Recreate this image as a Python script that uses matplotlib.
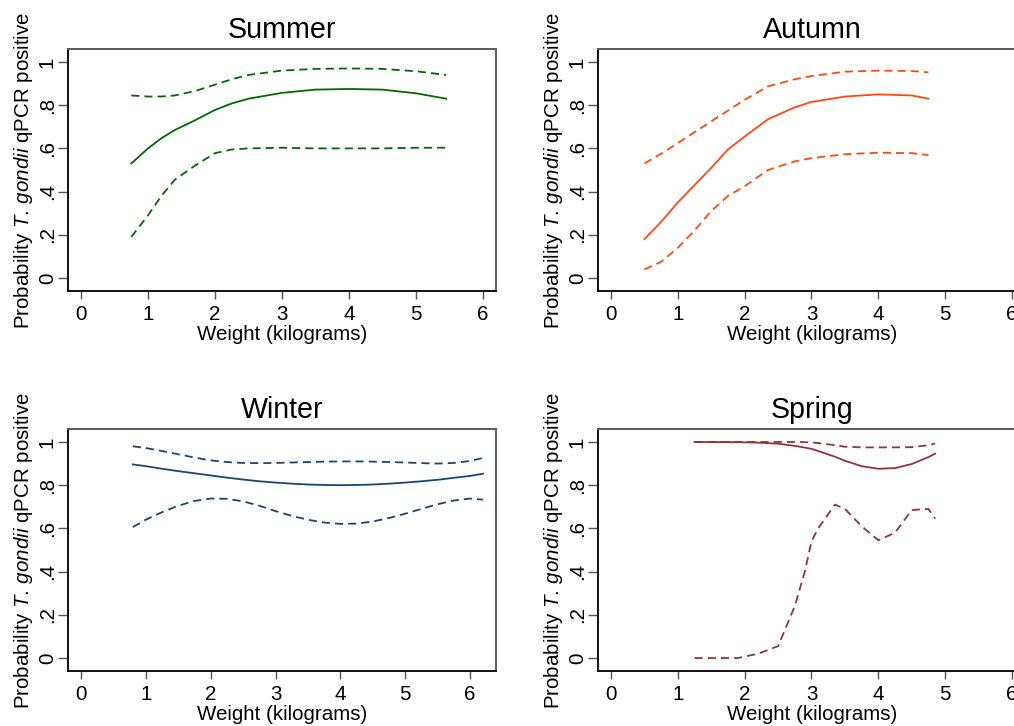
import matplotlib
matplotlib.use("Agg")
import matplotlib.pyplot as plt

plt.rcParams['font.family'] = ['Liberation Sans', 'DejaVu Sans']
plt.rcParams['mathtext.fontset'] = 'custom'
plt.rcParams['mathtext.rm'] = 'Liberation Sans'
plt.rcParams['mathtext.it'] = 'Liberation Sans:italic'

# ---------------- data ----------------
summer_w = [0.75, 1.0, 1.2, 1.4, 1.7, 2.0, 2.25, 2.5, 3.0, 3.5, 4.0, 4.5, 5.0, 5.45]
summer_mean = [0.53, 0.60, 0.647, 0.685, 0.73, 0.778, 0.808, 0.83, 0.857, 0.872, 0.875, 0.872, 0.855, 0.83]
summer_upper = [0.845, 0.84, 0.84, 0.845, 0.865, 0.895, 0.92, 0.94, 0.96, 0.968, 0.97, 0.968, 0.957, 0.94]
summer_lower = [0.19, 0.29, 0.38, 0.455, 0.52, 0.578, 0.595, 0.60, 0.603, 0.60, 0.60, 0.60, 0.603, 0.603]

autumn_w = [0.5, 0.75, 1.0, 1.25, 1.5, 1.75, 2.0, 2.35, 2.75, 3.0, 3.5, 4.0, 4.5, 4.75]
autumn_mean = [0.18, 0.26, 0.35, 0.43, 0.51, 0.595, 0.655, 0.735, 0.79, 0.815, 0.84, 0.85, 0.845, 0.83]
autumn_upper = [0.53, 0.575, 0.625, 0.675, 0.725, 0.775, 0.825, 0.887, 0.92, 0.935, 0.955, 0.96, 0.958, 0.952]
autumn_lower = [0.04, 0.075, 0.14, 0.22, 0.31, 0.38, 0.425, 0.50, 0.54, 0.555, 0.573, 0.58, 0.578, 0.569]

winter_w = [0.8, 1.0, 1.25, 1.5, 1.75, 2.0, 2.25, 2.5, 2.75, 3.0, 3.25, 3.5, 3.75, 4.0, 4.25, 4.5,
            4.75, 5.0, 5.25, 5.5, 5.75, 6.0, 6.2]
winter_mean = [0.896, 0.888, 0.876, 0.865, 0.855, 0.845, 0.835, 0.826, 0.818, 0.812, 0.807, 0.803, 0.801,
               0.80, 0.801, 0.803, 0.807, 0.812, 0.818, 0.825, 0.834, 0.843, 0.853]
winter_upper = [0.98, 0.972, 0.958, 0.943, 0.928, 0.915, 0.907, 0.903, 0.902, 0.903, 0.905, 0.907, 0.909,
                0.91, 0.91, 0.909, 0.907, 0.905, 0.902, 0.90, 0.903, 0.912, 0.926]
winter_lower = [0.606, 0.64, 0.675, 0.705, 0.727, 0.738, 0.737, 0.725, 0.705, 0.68, 0.658, 0.64, 0.627,
                0.621, 0.622, 0.632, 0.648, 0.668, 0.69, 0.712, 0.729, 0.738, 0.733]

spring_w = [1.25, 1.9, 2.2, 2.5, 2.75, 2.9, 3.0, 3.1, 3.35, 3.5, 3.75, 4.0, 4.25, 4.5, 4.75, 4.85]
spring_mean = [1.0, 0.999, 0.997, 0.992, 0.982, 0.974, 0.968, 0.958, 0.932, 0.913, 0.888, 0.876, 0.879, 0.898, 0.93, 0.946]
spring_upper = [1.0, 1.0, 1.0, 1.0, 1.0, 0.999, 0.998, 0.995, 0.985, 0.978, 0.975, 0.975, 0.975, 0.976, 0.985, 0.993]
spring_lower = [0.0, 0.0, 0.02, 0.055, 0.24, 0.40, 0.54, 0.60, 0.71, 0.69, 0.61, 0.545, 0.58, 0.685, 0.69, 0.645]

titles = ["Summer", "Autumn", "Winter", "Spring"]
colors = ["#006a00", "#ff4a10", "#1a476f", "#90353b"]
x_ticks = [0, 1, 2, 3, 4, 5, 6]
y_ticks = [0, 0.2, 0.4, 0.6, 0.8, 1.0]
y_tick_labels = ["0", ".2", ".4", ".6", ".8", "1"]

panels = [
    (summer_w, summer_mean, summer_upper, summer_lower),
    (autumn_w, autumn_mean, autumn_upper, autumn_lower),
    (winter_w, winter_mean, winter_upper, winter_lower),
    (spring_w, spring_mean, spring_upper, spring_lower),
]

W, H = 1014, 726
fig = plt.figure(figsize=(W / 100, H / 100), dpi=100)

# axes boxes in pixels (left, top, right, bottom)
boxes = [(68, 49, 496, 291), (598, 49, 1026, 291), (68, 429, 496, 671), (598, 429, 1026, 671)]
xlims = [(-0.194, 6.194), (-0.195, 6.21), (-0.2, 6.4), (-0.195, 6.21)]

lw = 1.3
for (w, m, u, l), title, col, box, xl in zip(panels, titles, colors, boxes, xlims):
    L, T, R, B = box
    ax = fig.add_axes([L / W, 1 - B / H, (R - L) / W, (B - T) / H])
    ax.plot(w, u, color=col, lw=lw, ls=(0, (4.5, 2.8)))
    ax.plot(w, l, color=col, lw=lw, ls=(0, (4.5, 2.8)))
    ax.plot(w, m, color=col, lw=lw, ls='-')
    ax.set_xlim(*xl)
    ax.set_ylim(-0.06, 1.06)
    ax.set_xticks(x_ticks)
    ax.set_yticks(y_ticks)
    ax.set_yticklabels(y_tick_labels, rotation=90, va='center')
    ax.tick_params(axis='both', labelsize=14.8, colors='black', direction='out')
    ax.tick_params(axis='x', length=6, width=1.0, color='#555555', pad=4)
    ax.tick_params(axis='y', length=7, width=1.0, color='#555555', pad=1)
    for s in ['left', 'bottom']:
        ax.spines[s].set_color('#111111')
        ax.spines[s].set_linewidth(1.4)
    for s in ['top', 'right']:
        ax.spines[s].set_color('#5a5a5a')
        ax.spines[s].set_linewidth(1.4)
    ax.set_title(title, fontsize=20.6, pad=8)
    ax.set_xlabel("Weight (kilograms)", fontsize=14.8, labelpad=1)
    ax.set_ylabel(r"Probability $\mathit{T.\,gondii}$ qPCR positive", fontsize=14.8, labelpad=2)

fig.savefig("out.png", dpi=100)
